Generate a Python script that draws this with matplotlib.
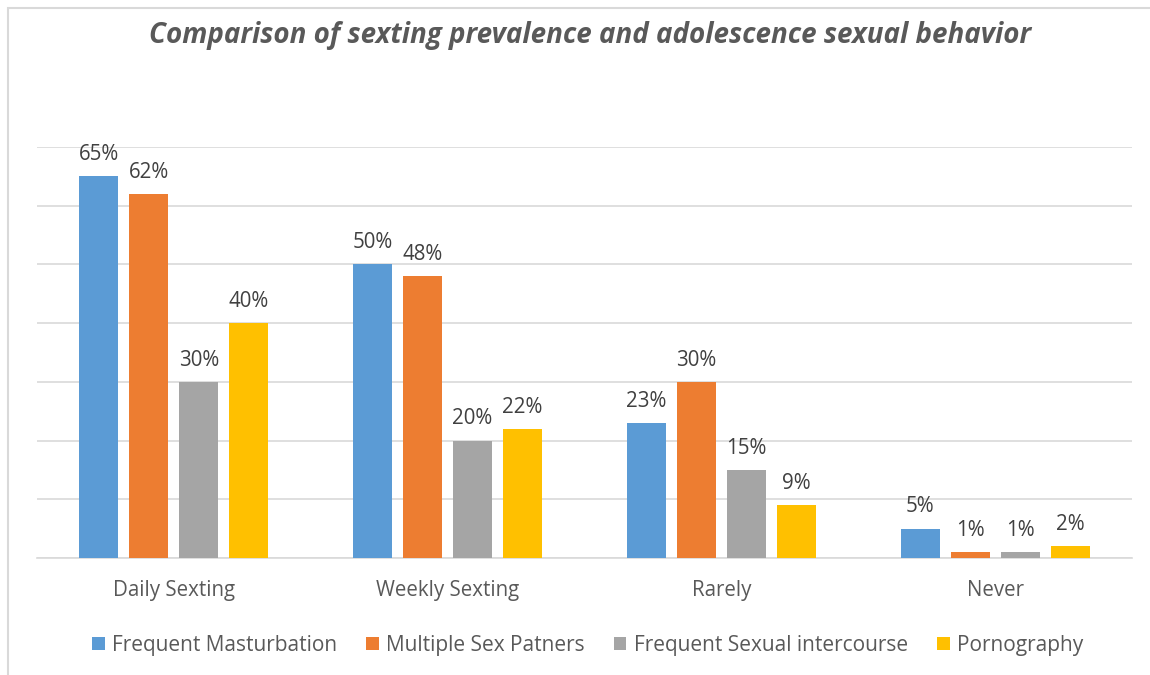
import numpy as np
import matplotlib
matplotlib.use("Agg")
import matplotlib.pyplot as plt
from matplotlib.patches import Rectangle

plt.rcParams['font.family'] = ['Open Sans', 'DejaVu Sans']

categories = ['Daily Sexting', 'Weekly Sexting', 'Rarely', 'Never']
series = ['Frequent Masturbation', 'Multiple Sex Patners',
          'Frequent Sexual intercourse', 'Pornography']
values = {
    'Frequent Masturbation': [65, 50, 23, 5],
    'Multiple Sex Patners': [62, 48, 30, 1],
    'Frequent Sexual intercourse': [30, 20, 15, 1],
    'Pornography': [40, 22, 9, 2],
}
colors = ['#5B9BD5', '#ED7D31', '#A5A5A5', '#FFC000']

fig = plt.figure(figsize=(11.5, 6.75), dpi=100)
ax = fig.add_axes([37/1150, 1-558/675, (1132-37)/1150, (558-147)/675])

# chart border (cropped at right and bottom)
fig.patches.append(Rectangle((8/1150, -0.05), 1.2, 1-8/675+0.05,
                             transform=fig.transFigure, fill=False,
                             edgecolor='#D9D9D9', lw=1.5))

x = np.arange(len(categories))
step = 0.1826
width = 0.1425
handles = []
for j, s in enumerate(series):
    pos = x + (j - 1.5) * step
    b = ax.bar(pos, values[s], width, color=colors[j], label=s, zorder=3)
    handles.append(b)
    for px, v in zip(pos, values[s]):
        ax.text(px, v + 1.9, f'{v}%', ha='center', va='bottom',
                fontsize=14.8, color='#404040')

ax.set_xlim(-0.5, 3.5)
ax.set_ylim(0, 70)
ax.set_yticks(np.arange(0, 71, 10))
ax.yaxis.grid(True, color='#D9D9D9', lw=1.2, zorder=0)
ax.set_yticklabels([])
ax.tick_params(axis='y', length=0)
ax.tick_params(axis='x', length=0, pad=16, labelsize=14.8, labelcolor='#595959')
ax.set_xticks(x)
ax.set_xticklabels(categories)
for sp in ['top', 'right', 'left']:
    ax.spines[sp].set_visible(False)
ax.spines['bottom'].set_color('#D9D9D9')
ax.spines['bottom'].set_linewidth(1.2)

fig.text(0.513, 1-35/675, 'Comparison of sexting prevalence and adolescence sexual behavior',
         ha='center', va='center', fontsize=20, fontweight='bold',
         fontstyle='italic', color='#595959')

fig.legend(handles=handles, labels=series, loc='center', ncol=4,
           bbox_to_anchor=(0.511, 1-645/675), frameon=False, fontsize=15,
           labelcolor='#595959', handlelength=0.6, handleheight=0.6,
           handletextpad=0.35, columnspacing=1.4)

fig.savefig('out.png', dpi=100)
